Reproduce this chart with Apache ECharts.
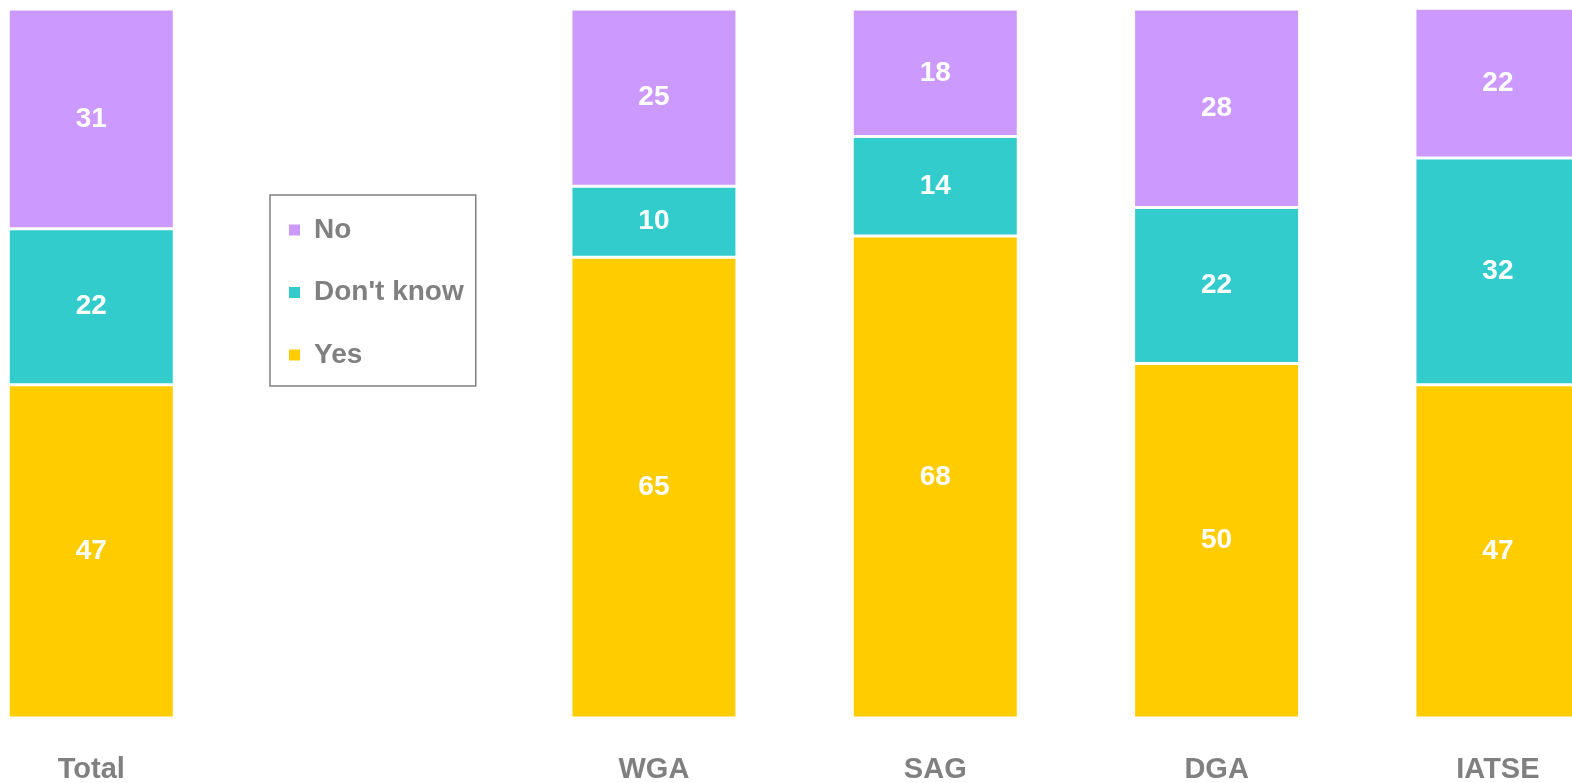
<!DOCTYPE html>
<html>
<head>
    <meta charset="utf-8">
    <script src="https://cdn.jsdelivr.net/npm/echarts@6/dist/echarts.min.js"></script>
    <style>
        html, body { margin: 0; padding: 0; background: #fff; }
        #main { width: 1572px; height: 783px; }
    </style>
</head>
<body>
<div id="main"></div>
<script type="text/javascript">
    // categories (second slot is left empty in the source, legend sits there)
    var groups = ['Total', '', 'WGA', 'SAG', 'DGA', 'IATSE'];
    var yesVals = [47, null, 65, 68, 50, 47];
    var dontKnowVals = [22, null, 10, 14, 22, 32];
    var noVals = [31, null, 25, 18, 28, 22];

    var gray = '#808080';
    var labelFont = "'Liberation Sans', Arial, sans-serif";

    function seg(name, vals, color) {
        return {
            name: name, type: 'bar', stack: 'all',
            barWidth: 166,
            data: vals,
            itemStyle: {color: color, borderColor: '#fff', borderWidth: 1.5},
            label: {
                show: true, position: 'inside', color: '#fff',
                fontSize: 28, fontWeight: 'bold', fontFamily: labelFont
            }
        };
    }

    var myChart = echarts.init(document.getElementById('main'));
    var option = {
        animation: false,
        // the chart runs off both sides of the picture
        grid: {left: -49.4, right: -66.6, top: 9, bottom: 65, outerBoundsMode: 'none', containLabel: false},
        legend: {
            orient: 'vertical', left: 270, top: 195,
            data: ['No', "Don't know", 'Yes'],
            icon: 'rect', itemWidth: 13, itemHeight: 13, itemGap: 34.5,
            padding: [21, 12, 17, 17],
            borderColor: gray, borderWidth: 1.5,
            textStyle: {
                color: gray, fontSize: 28, fontWeight: 'bold',
                fontFamily: labelFont, padding: [0, 0, 0, 8]
            }
        },
        xAxis: {
            type: 'category', data: groups,
            axisLine: {show: false}, axisTick: {show: false},
            axisLabel: {
                color: gray, fontSize: 29, fontWeight: 'bold',
                fontFamily: labelFont, margin: 37, interval: 0
            }
        },
        yAxis: {
            type: 'value', min: 0, max: 100, show: false,
            splitLine: {show: false}
        },
        series: [
            seg('Yes', yesVals, '#FFCC00'),
            seg("Don't know", dontKnowVals, '#33CCCC'),
            seg('No', noVals, '#CC99FF')
        ]
    };
    myChart.setOption(option);
</script>
</body>
</html>
